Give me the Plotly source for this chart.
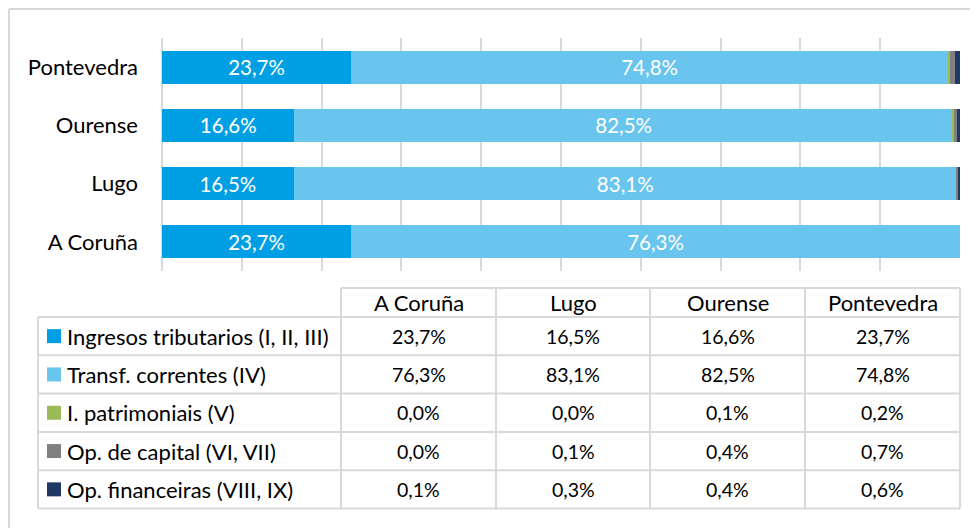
import plotly.graph_objects as go

provinces = ["A Coruña", "Lugo", "Ourense", "Pontevedra"]
series_names = [
    "Ingresos tributarios (I, II, III)",
    "Transf. correntes (IV)",
    "I. patrimoniais (V)",
    "Op. de capital (VI, VII)",
    "Op. financeiras (VIII, IX)",
]
ingresos = [23.7, 16.5, 16.6, 23.7]
transf = [76.3, 83.1, 82.5, 74.8]
patrimoniais = [0.0, 0.0, 0.1, 0.2]
capital = [0.0, 0.1, 0.4, 0.7]
financeiras = [0.1, 0.3, 0.4, 0.6]
series_values = [ingresos, transf, patrimoniais, capital, financeiras]
colors = ["#009FE3", "#69C5EE", "#9BBB59", "#808080", "#203864"]
labelled = [True, True, False, False, False]

# page has an 8px body margin: work in reference pixels and shift
OFF = 8
W, H = 978 - OFF, 528 - OFF
FONT = "Lato"
GRID = "#d9d9d9"


def px(x):
    return (x - OFF) / W


def py(y):
    return 1 - (y - OFF) / H


def fmt(v):
    return f"{v:.1f}%".replace(".", ",")


fig = go.Figure()
for name, vals, col, lab in zip(series_names, series_values, colors, labelled):
    fig.add_trace(go.Bar(
        y=provinces, x=vals, name=name, orientation="h",
        marker=dict(color=col, line=dict(width=0)),
        text=[fmt(v) for v in vals] if lab else None,
        textposition="inside" if lab else "none",
        insidetextanchor="middle",
        textangle=0,
        constraintext="none",
        textfont=dict(family=FONT, size=20.5, color="white"),
        showlegend=False,
        hoverinfo="x+y+name",
    ))

# ---- data table (drawn with shapes + annotations) ----
col_edges = [38, 341, 496, 650, 805, 960]
header_top, header_bot = 288, 317
row_h = (508.5 - header_bot) / len(series_names)
row_edges = [header_top] + [header_bot + i * row_h for i in range(len(series_names) + 1)]
bottom = row_edges[-1]

shapes = []
line_style = dict(color=GRID, width=2)
# horizontal lines
for i, y in enumerate(row_edges):
    x0 = col_edges[1] if i == 0 else col_edges[0]
    shapes.append(dict(type="line", xref="paper", yref="paper",
                       x0=px(x0), x1=px(col_edges[-1]), y0=py(y), y1=py(y),
                       line=line_style))
# vertical lines
for j, x in enumerate(col_edges):
    y0 = header_bot if j == 0 else header_top
    shapes.append(dict(type="line", xref="paper", yref="paper",
                       x0=px(x), x1=px(x), y0=py(y0), y1=py(bottom),
                       line=line_style))

annotations = []
# header
for p, prov in enumerate(provinces):
    annotations.append(dict(
        xref="paper", yref="paper",
        x=px((col_edges[p + 1] + col_edges[p + 2]) / 2),
        y=py((header_top + header_bot) / 2),
        text=prov, showarrow=False, xanchor="center", yanchor="middle",
        font=dict(family=FONT, size=22, color="#000000")))
# rows
for s, (name, col) in enumerate(zip(series_names, colors)):
    yc = (row_edges[s + 1] + row_edges[s + 2]) / 2
    shapes.append(dict(type="rect", xref="paper", yref="paper",
                       x0=px(47), x1=px(61), y0=py(yc - 7), y1=py(yc + 7),
                       fillcolor=col, line=dict(width=0)))
    annotations.append(dict(
        xref="paper", yref="paper", x=px(65), y=py(yc),
        text=name, showarrow=False, xanchor="left", yanchor="middle",
        font=dict(family=FONT, size=22, color="#000000")))
    for p in range(len(provinces)):
        annotations.append(dict(
            xref="paper", yref="paper",
            x=px((col_edges[p + 1] + col_edges[p + 2]) / 2), y=py(yc),
            text=fmt(series_values[s][p]), showarrow=False,
            xanchor="center", yanchor="middle",
            font=dict(family=FONT, size=19.5, color="#000000")))

# outer chart frame (top and left edges visible)
shapes.append(dict(type="line", xref="paper", yref="paper",
                   x0=px(9), x1=1.02, y0=py(9), y1=py(9), line=line_style))
shapes.append(dict(type="line", xref="paper", yref="paper",
                   x0=px(9), x1=px(9), y0=py(9), y1=-0.02, line=line_style))

fig.update_layout(
    width=W, height=H,
    barmode="stack",
    bargap=0.433,
    margin=dict(l=0, r=0, t=0, b=0),
    paper_bgcolor="white",
    plot_bgcolor="white",
    font=dict(family=FONT, color="#000000"),
    xaxis=dict(
        domain=[px(162), px(960)],
        range=[0, 100], dtick=10, tick0=0,
        showticklabels=False, ticks="",
        showgrid=True, gridcolor=GRID, gridwidth=2,
        zeroline=True, zerolinecolor=GRID, zerolinewidth=2,
        showline=False, fixedrange=True,
    ),
    yaxis=dict(
        domain=[py(271), py(38)],
        type="category",
        categoryorder="array", categoryarray=provinces,
        range=[-0.5, 3.5],
        showgrid=False, zeroline=False, showline=False,
        ticks="", ticklabelstandoff=23,
        tickfont=dict(family=FONT, size=22, color="#000000"),
        fixedrange=True,
    ),
    shapes=shapes,
    annotations=annotations,
)

fig.write_html("out.html")
